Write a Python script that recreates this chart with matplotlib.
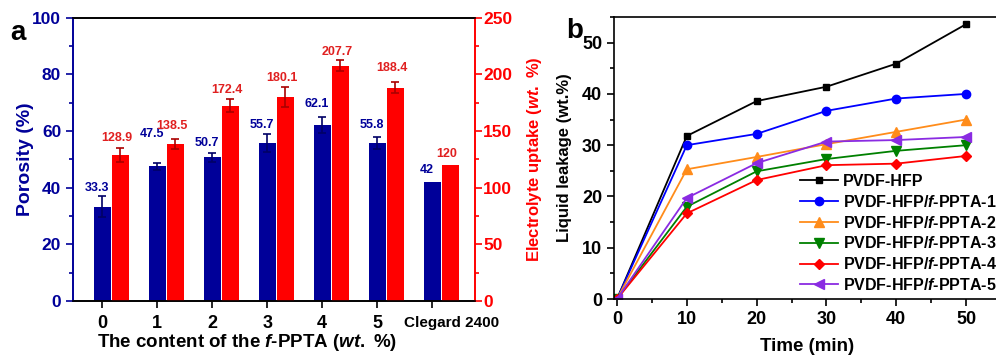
import matplotlib
matplotlib.use("Agg")
import matplotlib.pyplot as plt
import numpy as np
from matplotlib.ticker import MultipleLocator
from matplotlib.transforms import ScaledTranslation

plt.rcParams['font.family'] = ['Liberation Sans', 'DejaVu Sans']
plt.rcParams['font.weight'] = 'bold'
plt.rcParams['mathtext.fontset'] = 'custom'
plt.rcParams['mathtext.rm'] = 'Liberation Sans:bold'
plt.rcParams['mathtext.it'] = 'Liberation Sans:italic:bold'
plt.rcParams['mathtext.bf'] = 'Liberation Sans:bold'

# ---------------- data (panel a) ----------------
categories = ['0', '1', '2', '3', '4', '5', 'Clegard 2400']
porosity = [33.3, 47.5, 50.7, 55.7, 62.1, 55.8, 42]
porosity_err = [3.8, 1.1, 1.6, 3.1, 2.9, 2.2, 0]
uptake = [128.9, 138.5, 172.4, 180.1, 207.7, 188.4, 120]
uptake_err = [5.8, 4.1, 5.6, 9.0, 5.0, 5.1, 0]
porosity_labels = ['33.3', '47.5', '50.7', '55.7', '62.1', '55.8', '42']
uptake_labels = ['128.9', '138.5', '172.4', '180.1', '207.7', '188.4', '120']

# ---------------- data (panel b) ----------------
time_min = [0, 10, 20, 30, 40, 50]
series_names = ['PVDF-HFP', 'PVDF-HFP/$f$-PPTA-1', 'PVDF-HFP/$f$-PPTA-2',
                'PVDF-HFP/$f$-PPTA-3', 'PVDF-HFP/$f$-PPTA-4', 'PVDF-HFP/$f$-PPTA-5']
leak_0 = [0, 31.8, 38.6, 41.4, 45.9, 53.6]
leak_1 = [0, 30.0, 32.2, 36.7, 39.1, 40.0]
leak_2 = [0, 25.3, 27.7, 30.2, 32.6, 35.0]
leak_3 = [0, 18.0, 24.9, 27.3, 28.9, 30.0]
leak_4 = [0, 16.7, 23.2, 26.1, 26.4, 27.9]
leak_5 = [0, 19.7, 26.5, 30.7, 31.0, 31.6]
leak_series = [leak_0, leak_1, leak_2, leak_3, leak_4, leak_5]

BLUE = '#000099'
RED = '#ff0000'
W, H = 996, 363
fig = plt.figure(figsize=(W / 100, H / 100), dpi=100)

# ================= panel a =================
axL, axR = 73, 475
ax = fig.add_axes([axL / W, 1 - 301 / H, (axR - axL) / W, (301 - 17.7) / H])
ax2 = ax.twinx()
x = np.arange(len(categories))
bw = 0.31
off = 0.33
ax.bar(x, porosity, bw, color=BLUE, zorder=2)
ax.errorbar(x[:-1], porosity[:-1], yerr=porosity_err[:-1], fmt='none',
            ecolor='#000066', elinewidth=1.2, capsize=3, capthick=1.2, zorder=3)
ax2.bar(x + off, uptake, bw, color=RED, zorder=2)
ax2.errorbar(x[:-1] + off, uptake[:-1], yerr=uptake_err[:-1], fmt='none',
             ecolor='#aa0000', elinewidth=1.2, capsize=3, capthick=1.2, zorder=3)

# value labels (pixel offsets above the bar/error top)
por_off = [8, 29, 10, 9, 13, 12, 12]
upt_off = [10, 13, 9, 9, 8, 14, 11]
for i in range(len(categories)):
    ax.annotate(porosity_labels[i], (x[i] - 0.1, porosity[i] + porosity_err[i]),
                xytext=(0, por_off[i] * 0.72), textcoords='offset points',
                ha='center', va='center', color=BLUE, fontsize=9, fontweight='bold')
    ax2.annotate(uptake_labels[i], (x[i] + off - 0.06, uptake[i] + uptake_err[i]),
                 xytext=(0, upt_off[i] * 0.72), textcoords='offset points',
                 ha='center', va='center', color='#e02020', fontsize=9, fontweight='bold')

ax.set_xlim(-0.53, 6.78)
ax.set_ylim(0, 100)
ax2.set_ylim(0, 250)
ax.set_xticks(x)
ax.set_xticklabels(categories)
ax.yaxis.set_major_locator(MultipleLocator(20))
ax.yaxis.set_minor_locator(MultipleLocator(10))
ax2.yaxis.set_major_locator(MultipleLocator(50))
ax2.yaxis.set_minor_locator(MultipleLocator(25))
ax.tick_params(axis='y', colors=BLUE, labelsize=12.5, width=1.2, length=5, direction='out')
ax.tick_params(axis='y', which='minor', colors=BLUE, width=1.2, length=3)
ax.tick_params(axis='x', labelsize=13, width=1.2, length=5, direction='out', pad=5)
ax2.tick_params(axis='y', colors=RED, labelsize=12.5, width=1.2, length=5, direction='out', pad=1)
ax2.tick_params(axis='y', which='minor', colors=RED, width=1.2, length=3)
for lab in ax.get_xticklabels():
    lab.set_fontweight('bold')
    if lab.get_text() == 'Clegard 2400':
        lab.set_fontsize(11)
        lab.set_transform(lab.get_transform() + ScaledTranslation(0.19, -0.01, fig.dpi_scale_trans))
for a in (ax, ax2):
    a.spines['left'].set_color(BLUE)
    a.spines['right'].set_color(RED)
    for s in a.spines.values():
        s.set_linewidth(1.2)
for lab in ax.get_yticklabels() + ax2.get_yticklabels():
    lab.set_fontweight('bold')
ax.set_ylabel('Porosity (%)', color=BLUE, fontsize=14, fontweight='bold')
ax.yaxis.set_label_coords((34 - axL) / (axR - axL), 0.5)
ax2.set_ylabel(r'Electrolyte uptake ($\it{wt.}$ %)', color=RED, fontsize=12,
               fontweight='bold')
ax2.yaxis.set_label_coords((525 - axL) / (axR - axL), 0.5)
ax.set_xlabel(r'The content of the $\it{f}$-PPTA ($\it{wt.}$ %)', fontsize=13.5,
              fontweight='bold', labelpad=0)
ax.xaxis.label.set_x(0.433)
fig.text(10 / W, 1 - 33 / H, 'a', fontsize=20, fontweight='bold', va='center', ha='left')

# ================= panel b =================
bL, bR = 614, 1001
bx = fig.add_axes([bL / W, 1 - 299 / H, (bR - bL) / W, (299 - 17) / H])
colors = ['#000000', '#0000ff', '#ff8c1a', '#008000', '#ff0000', '#8a2be2']
markers = ['s', 'o', '^', 'v', 'D', '<']
msizes = [5, 6, 6.5, 6.5, 5, 6.5]
for ys, c, m, ms, nm in zip(leak_series, colors, markers, msizes, series_names):
    bx.plot(time_min, ys, color=c, marker=m, markersize=ms, linewidth=1.3, label=nm)
bx.set_xlim(-0.43, 55)
bx.set_ylim(0, 55)
bx.xaxis.set_major_locator(MultipleLocator(10))
bx.xaxis.set_minor_locator(MultipleLocator(5))
bx.yaxis.set_major_locator(MultipleLocator(10))
bx.yaxis.set_minor_locator(MultipleLocator(5))
bx.tick_params(axis='both', labelsize=13, width=1.2, length=5, direction='out')
bx.tick_params(axis='both', which='minor', width=1.2, length=3)
for lab in bx.get_xticklabels() + bx.get_yticklabels():
    lab.set_fontweight('bold')
for s in bx.spines.values():
    s.set_linewidth(1.2)
bx.set_xlabel('Time (min)', fontsize=13.5, fontweight='bold', labelpad=7)
bx.set_ylabel('Liquid leakage (wt.%)', fontsize=12, fontweight='bold')
bx.yaxis.set_label_coords((572 - bL) / (bR - bL), 0.5)
leg = bx.legend(loc='upper left', bbox_to_anchor=(800 / W, 1 - 174 / H),
                bbox_transform=fig.transFigure, frameon=False, borderpad=0,
                borderaxespad=0, handlelength=2.4, handletextpad=0.3,
                labelspacing=0.3, prop={'size': 11.5, 'weight': 'bold'})
fig.text(566 / W, 1 - 31 / H, 'b', fontsize=20, fontweight='bold', va='center', ha='left')

fig.savefig('out.png', dpi=100)
